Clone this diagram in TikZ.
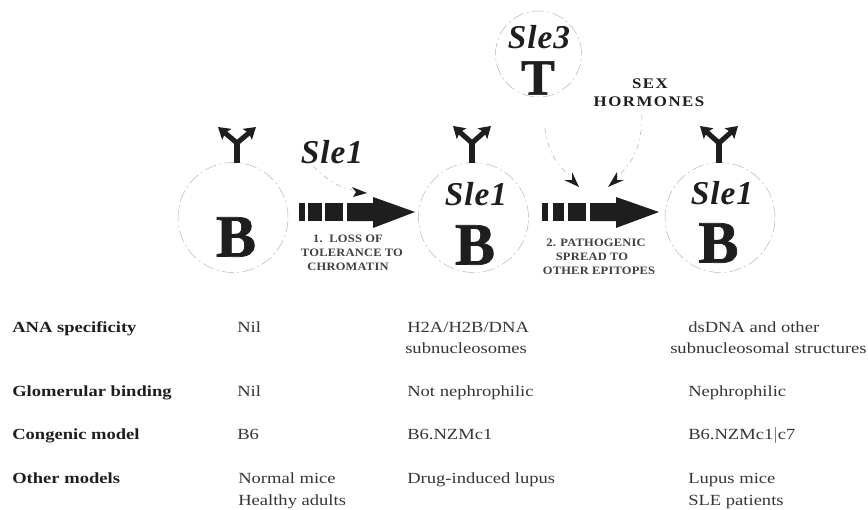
\documentclass[tikz,border=0pt]{standalone}
\usepackage{fontspec}
\setmainfont[FakeStretch=1.2]{Liberation Serif}
\newfontfamily\heavy[BoldFeatures={FakeBold=1.2}]{Liberation Serif}
\newfontfamily\genef[BoldFeatures={FakeBold=1.2},LetterSpace=3]{Liberation Serif}
\newfontfamily\spaced[FakeStretch=1.15,LetterSpace=10]{Liberation Serif}
\newfontfamily\capf[FakeStretch=1.1,LetterSpace=2]{Liberation Serif}
\usetikzlibrary{arrows.meta}
\definecolor{ink}{HTML}{1E1E1E}
\tikzset{
  cell/.style={circle,draw=gray!60,line width=.35pt,dash pattern=on 9pt off 2.5pt on 1.5pt off 2.5pt,minimum size=82.5pt,inner sep=0pt},
  tcell/.style={cell,minimum size=64.5pt},
  letter/.style={font=\heavy\bfseries\fontsize{45}{45}\selectfont,text=ink,inner sep=0pt,anchor=center},
  gene/.style={font=\genef\bfseries\itshape\fontsize{25}{25}\selectfont,text=ink,inner sep=0pt,anchor=center},
  row/.style={font=\fontsize{11.6}{13}\selectfont,text=ink!90,inner sep=0pt,anchor=base west},
  rowhead/.style={row,text=ink,font=\bfseries\fontsize{11.6}{13}\selectfont},
  captext/.style={font=\capf\bfseries\fontsize{8.5}{9}\selectfont,text=ink!85,inner sep=0pt,anchor=center},
  sex/.style={font=\spaced\bfseries\fontsize{11}{11}\selectfont,text=ink,inner sep=0pt,anchor=center},
  ab/.style={draw=ink,line width=3.8pt},
  abtip/.style={ab,-{Stealth[length=8.5pt,width=10.5pt,inset=1.5pt]}},
  influence/.style={draw=gray!60,line width=.4pt,dash pattern=on 4pt off 3pt on 1pt off 3pt},
  headtip/.style={fill=ink,draw=none},
  bar/.style={fill=ink,draw=none}
}
\newcommand{\antibody}[5]{% stem x, left tip x, right tip x, tip y, name
  \coordinate (#5base) at (#1,163);
  \coordinate (#5fork) at (#1,143);
  \coordinate (#5l) at (#2,#4);
  \coordinate (#5r) at (#3,#4);
  \draw[ab] (#5base) -- (#5fork);
  \draw[abtip] (#5fork) -- (#5l);
  \draw[abtip] (#5fork) -- (#5r);
}
\begin{document}
\begin{tikzpicture}[x=.75pt,y=-.75pt]
\useasboundingbox (0,0) rectangle (868,510);
% cells
\node[cell] (b1) at (233,217.5) {};
\node[cell] (b2) at (473.5,217.5) {};
\node[cell] (b3) at (720,217.5) {};
\node[tcell] (t) at (538.5,54) {};
% letters
\node[letter] (lb1) at (236,237) {B};
\node[letter] (lb2) at (475,245) {B};
\node[letter] (lb3) at (718.5,243) {B};
\node[letter,font=\heavy\bfseries\fontsize{38}{38}\selectfont] (lt) at (538,78) {T};
\node[gene] (g2) at (476,194) {Sle1};
\node[gene] (g3) at (722,193) {Sle1};
\node[gene] (g4) at (539,37) {Sle3};
\node[gene] (g1) at (332,152) {Sle1};
% antibodies
\antibody{237}{218}{256}{127}{a}
\antibody{472}{453}{491}{126}{c}
\antibody{719}{700}{738}{126}{d}
% block arrows
\fill[bar] (299,203) rectangle (305,221);
\fill[bar] (308,203) rectangle (322,221);
\fill[bar] (325,203) rectangle (343,221);
\fill[bar] (347,203) -- (373,203) -- (373,197) -- (415,212) -- (373,228) -- (373,221) -- (347,221) -- cycle;
\fill[bar] (542,203) rectangle (548,221);
\fill[bar] (553,203) rectangle (564,221);
\fill[bar] (568,203) rectangle (586,221);
\fill[bar] (590,203) -- (616,203) -- (616,197) -- (659,212) -- (616,228) -- (616,221) -- (590,221) -- cycle;
% influence connectors
\coordinate (h1) at (367,193);
\coordinate (h2) at (579,187);
\coordinate (h3) at (608,187);
\coordinate (s1) at (313,166);
\coordinate (s2) at (545,128);
\coordinate (s3) at (642,115);
\draw[influence] (s1) .. controls (325,178) and (338,188) .. (354,190);
\draw[influence] (s2) .. controls (548,150) and (555,165) .. (573,178);
\draw[influence] (s3) .. controls (642,145) and (632,165) .. (616,178);
\fill[headtip] (h1) -- (352,187) -- (356,192) -- (353,197) -- cycle;
\fill[headtip] (h2) -- (564,180) -- (572,180) -- (572,172) -- cycle;
\fill[headtip] (h3) -- (624,180) -- (617,180) -- (617,172) -- cycle;
% captions
\node[captext] (c1) at (348,239) {1.\ \ LOSS OF};
\node[captext] (c2) at (352,253) {TOLERANCE TO};
\node[captext] (c3) at (348,267) {CHROMATIN};
\node[captext] (c4) at (596,243) {2. PATHOGENIC};
\node[captext] (c5) at (592,257) {SPREAD TO};
\node[captext] (c6) at (599,271) {OTHER EPITOPES};
\node[sex] (x1) at (650,84) {SEX};
\node[sex] (x2) at (649,102) {HORMONES};
% table
\node[rowhead] (r1) at (12,332) {ANA specificity};
\node[row] (r1a) at (237,332) {Nil};
\node[row] (r1b) at (407,332) {H2A/H2B/DNA};
\node[row] (r1b2) at (405,353) {subnucleosomes};
\node[row] (r1c) at (688,332) {dsDNA and other};
\node[row] (r1c2) at (670,353) {subnucleosomal structures};
\node[rowhead] (r2) at (12,396) {Glomerular binding};
\node[row] (r2a) at (237,396) {Nil};
\node[row] (r2b) at (407,396) {Not nephrophilic};
\node[row] (r2c) at (688,396) {Nephrophilic};
\node[rowhead] (r3) at (12,439) {Congenic model};
\node[row] (r3a) at (237,439) {B6};
\node[row] (r3b) at (407,439) {B6.NZMc1};
\node[row] (r3c) at (688,439) {B6.NZMc1$|$c7};
\node[rowhead] (r4) at (12,483) {Other models};
\node[row] (r4a) at (238,483) {Normal mice};
\node[row] (r4a2) at (238,505) {Healthy adults};
\node[row] (r4b) at (407,483) {Drug-induced lupus};
\node[row] (r4c) at (688,483) {Lupus mice};
\node[row] (r4c2) at (688,505) {SLE patients};
\end{tikzpicture}
\end{document}
